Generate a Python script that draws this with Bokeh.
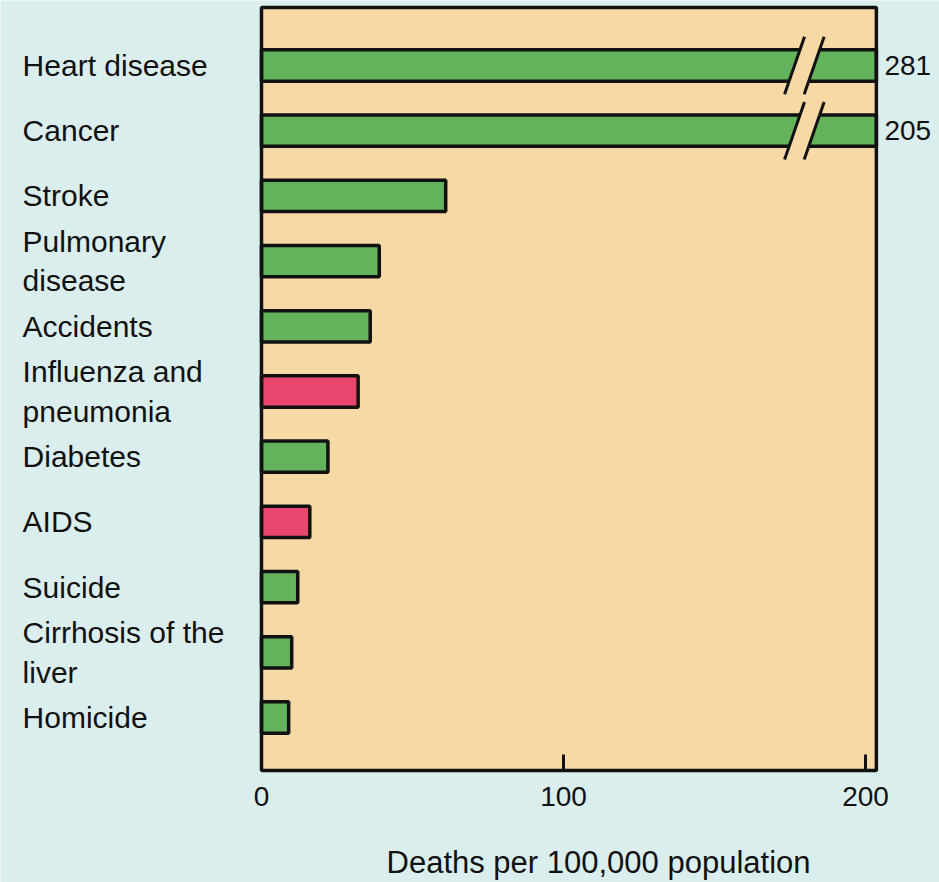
import numpy as np
from bokeh.plotting import figure
from bokeh.models import Range1d, ColumnDataSource
from bokeh.core.properties import value
from bokeh.embed import file_html
from bokeh.resources import INLINE

# Leading causes of death, deaths per 100,000 population
causes = ["Heart disease", "Cancer", "Stroke", "Pulmonary\ndisease", "Accidents",
          "Influenza and\npneumonia", "Diabetes", "AIDS", "Suicide",
          "Cirrhosis of the\nliver", "Homicide"]
deaths = [281, 205, 61, 39, 36, 32, 22, 16, 12, 10, 9]
infectious = [False, False, False, False, False, True, False, True, False, False, False]
tick_values = [0, 100, 200]
axis_title = "Deaths per 100,000 population"

# styling
BG = "#dbeeee"
PANEL = "#f6d9a4"
GREEN = "#62b35c"
RED = "#e8466c"
INK = "#111111"
FONT = value("Liberation Sans")

X_MAX = 203.6            # right end of the value scale (axis is broken beyond it)
BAR_H = 0.48
PX_X = 3.02              # screen pixels per death/100,000
PX_Y = 65.2              # screen pixels per row
PANEL_TOP, PANEL_BOTTOM = -0.89, 10.813

n = len(causes)
rows = np.arange(n)
vals = np.array(deaths, dtype=float)
shown = np.minimum(vals, X_MAX)
colors = [RED if f else GREEN for f in infectious]

# the whole canvas is the plotting frame; the scale and its labels are drawn as glyphs
p = figure(width=939, height=882,
           x_range=Range1d(-86.42, 224.5), y_range=Range1d(12.531, -0.997),
           output_backend="svg", toolbar_location=None,
           x_axis_location=None, y_axis_location=None,
           min_border=0, min_border_left=0, min_border_right=0,
           min_border_top=0, min_border_bottom=0)
p.background_fill_color = BG
p.border_fill_color = BG
p.outline_line_color = None
p.grid.visible = False

# tan panel behind the bars
p.quad(left=[0], right=[X_MAX], top=[PANEL_TOP], bottom=[PANEL_BOTTOM],
       fill_color=PANEL, line_color=None)

src = ColumnDataSource(dict(y=rows, right=shown, color=colors))
p.hbar(y="y", left=0, right="right", height=BAR_H, source=src,
       fill_color="color", line_color=INK, line_width=3.5)

# break marks on the bars that run off the scale
brk = rows[vals > X_MAX]
lx, rx, dx, hh = 176.5, 183.0, 3.3, 0.44
gap_xs, gap_ys, line_xs, line_ys = [], [], [], []
for yc in brk:
    gap_xs.append([lx + dx, rx + dx, rx - dx, lx - dx])
    gap_ys.append([yc - hh, yc - hh, yc + hh, yc + hh])
    line_xs += [[lx + dx, lx - dx], [rx + dx, rx - dx]]
    line_ys += [[yc - hh, yc + hh], [yc - hh, yc + hh]]
p.patches(gap_xs, gap_ys, fill_color=PANEL, line_color=None)
p.multi_line(line_xs, line_ys, line_color=INK, line_width=3)

# panel outline (its bottom edge is the value axis)
p.quad(left=[0], right=[X_MAX], top=[PANEL_TOP], bottom=[PANEL_BOTTOM],
       fill_color=None, line_color=INK, line_width=3.5)

# inward tick marks and tick labels of the value axis
ticks = ColumnDataSource(dict(x=tick_values, y0=[PANEL_BOTTOM] * len(tick_values),
                              y1=[PANEL_BOTTOM - 16 / PX_Y] * len(tick_values),
                              ylab=[PANEL_BOTTOM + 26 / PX_Y] * len(tick_values),
                              t=[str(v) for v in tick_values]))
p.segment(x0="x", y0="y0", x1="x", y1="y1", source=ticks,
          line_color=INK, line_width=3)
p.text(x="x", y="ylab", text="t", source=ticks,
       text_font=FONT, text_font_size="28px", text_color=INK,
       text_align="center", text_baseline="middle")

# axis title
p.text(x=[111.6], y=[PANEL_BOTTOM + 92 / PX_Y], text=[axis_title],
       text_font=FONT, text_font_size="31px", text_color=INK,
       text_align="center", text_baseline="middle")

# values of the broken bars, just outside the panel
lbl = ColumnDataSource(dict(x=np.full(len(brk), X_MAX), y=brk,
                            t=[str(int(v)) for v in vals[vals > X_MAX]]))
p.text(x="x", y="y", text="t", source=lbl, x_offset=8,
       text_font=FONT, text_font_size="28px", text_color=INK,
       text_align="left", text_baseline="middle")

# category names
names = ColumnDataSource(dict(x=np.full(n, -79.1), y=rows, t=causes))
p.text(x="x", y="y", text="t", source=names,
       text_font=FONT, text_font_size="30px", text_color=INK,
       text_align="left", text_baseline="middle", text_line_height=1.2)

open("out.html", "w").write(file_html(p, INLINE))
